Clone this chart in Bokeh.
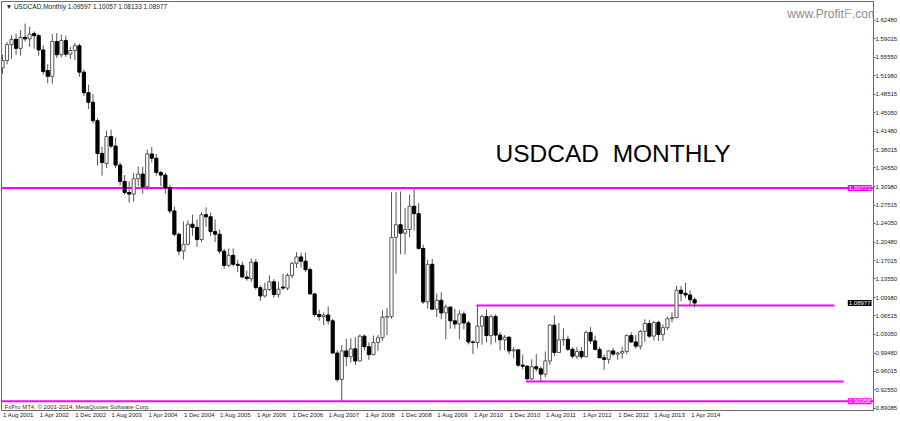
from bokeh.plotting import figure
from bokeh.models import Range1d, FixedTicker, PrintfTickFormatter, Label, ColumnDataSource
from bokeh.embed import file_html
from bokeh.resources import INLINE

# Monthly USDCAD candles, Aug 2001 .. May 2014 (bar index 0 .. 153)
opens = [1.5350, 1.5490, 1.5790, 1.5890, 1.5720,
         1.5930, 1.5900, 1.6000, 1.5960, 1.5690, 1.5300, 1.5190, 1.5850, 1.5600, 1.5870, 1.5610, 1.5680,
         1.5770, 1.5270, 1.4880, 1.4700, 1.4350, 1.3730, 1.3540, 1.4050, 1.3870, 1.3510, 1.3200, 1.2990,
         1.2960, 1.3250, 1.3340, 1.3100, 1.3720, 1.3640, 1.3370, 1.3320, 1.3080, 1.2640, 1.2200, 1.1880,
         1.2010, 1.2390, 1.2330, 1.2100, 1.2570, 1.2530, 1.2250, 1.2200, 1.1880, 1.1610, 1.1800, 1.1630,
         1.1610, 1.1390, 1.1360, 1.1670, 1.1190, 1.1030, 1.1150, 1.1300, 1.1060, 1.1200, 1.1180, 1.1420,
         1.1650, 1.1770, 1.1690, 1.1530, 1.1070, 1.0680, 1.0640, 1.0670, 1.0560, 0.9950, 0.9450, 0.9990,
         0.9880, 1.0030, 0.9800, 1.0270, 1.0070, 0.9920, 1.0150, 1.0240, 1.0630, 1.0640, 1.2140, 1.2380,
         1.2220, 1.2290, 1.2730, 1.2590, 1.1930, 1.0920, 1.1630, 1.0780, 1.0950, 1.0710, 1.0820, 1.0560,
         1.0500, 1.0690, 1.0520, 1.0160, 1.0150, 1.0460, 1.0640, 1.0280, 1.0640, 1.0290, 1.0200, 1.0250,
         0.9990, 1.0010, 0.9720, 0.9700, 0.9460, 0.9690, 0.9650, 0.9550, 0.9800, 1.0480, 0.9960, 1.0200,
         1.0210, 1.0020, 0.9890, 0.9980, 0.9880, 1.0340, 1.0180, 1.0020, 0.9860, 0.9830, 0.9990, 0.9930,
         0.9950, 0.9980, 1.0280, 1.0160, 1.0080, 1.0360, 1.0510, 1.0270, 1.0530, 1.0300, 1.0430, 1.0600,
         1.0620, 1.1140, 1.1080, 1.1050, 1.09597]
highs = [1.5600, 1.5840, 1.5970, 1.6000, 1.6060,
         1.6190, 1.6130, 1.6040, 1.5990, 1.5780, 1.5420, 1.5990, 1.6010, 1.5980, 1.5960, 1.5750, 1.5820,
         1.5810, 1.5320, 1.5030, 1.4860, 1.4400, 1.3860, 1.4160, 1.4180, 1.4030, 1.3560, 1.3320, 1.3200,
         1.3360, 1.3480, 1.3480, 1.3800, 1.3850, 1.3720, 1.3400, 1.3360, 1.3130, 1.2720, 1.2230, 1.2440,
         1.2460, 1.2570, 1.2480, 1.2620, 1.2710, 1.2610, 1.2480, 1.2290, 1.1920, 1.1930, 1.1930, 1.1720,
         1.1680, 1.1510, 1.1740, 1.1730, 1.1230, 1.1280, 1.1420, 1.1350, 1.1300, 1.1450, 1.1460, 1.1680,
         1.1860, 1.1850, 1.1850, 1.1570, 1.1090, 1.0770, 1.0720, 1.0830, 1.0600, 1.0000, 1.0100, 1.0220,
         1.0230, 1.0250, 1.0300, 1.0300, 1.0150, 1.0280, 1.0290, 1.0760, 1.0800, 1.2995, 1.2997, 1.3010,
         1.2700, 1.2950, 1.30773, 1.2790, 1.2000, 1.1720, 1.1730, 1.1080, 1.1100, 1.0870, 1.0830, 1.0790,
         1.0760, 1.0740, 1.0560, 1.0190, 1.0850, 1.0680, 1.0780, 1.0680, 1.0680, 1.0340, 1.0290, 1.0270,
         1.0060, 1.0020, 0.9920, 0.9720, 0.9830, 0.9930, 0.9700, 0.9980, 1.0500, 1.0660, 1.0520, 1.0420,
         1.0280, 1.0060, 1.0060, 1.0060, 1.0370, 1.0440, 1.0280, 1.0070, 0.9920, 1.0000, 1.0050, 0.9970,
         1.0070, 1.0300, 1.0340, 1.0290, 1.0390, 1.0590, 1.0580, 1.0560, 1.0560, 1.0490, 1.0640, 1.0720,
         1.1220, 1.1220, 1.1280, 1.1140, 1.10057]
lows = [1.5240, 1.5420, 1.5520, 1.5600, 1.5580,
        1.5850, 1.5750, 1.5710, 1.5580, 1.5220, 1.5060, 1.5050, 1.5540, 1.5550, 1.5560, 1.5520, 1.5500,
        1.5180, 1.4820, 1.4570, 1.4300, 1.3500, 1.3310, 1.3450, 1.3830, 1.3450, 1.3120, 1.2950, 1.2800,
        1.2820, 1.3110, 1.2970, 1.3040, 1.3560, 1.3310, 1.3110, 1.2970, 1.2590, 1.2160, 1.1800, 1.1720,
        1.1990, 1.2170, 1.1960, 1.2050, 1.2340, 1.2170, 1.2050, 1.1830, 1.1540, 1.1580, 1.1590, 1.1480,
        1.1370, 1.1320, 1.1300, 1.1150, 1.0940, 1.1000, 1.1130, 1.1000, 1.1000, 1.1140, 1.1140, 1.1370,
        1.1560, 1.1570, 1.1480, 1.1060, 1.0630, 1.0560, 1.0480, 1.0490, 0.9940, 0.9400, 0.90358, 0.9700,
        0.9770, 0.9720, 0.9790, 1.0000, 0.9820, 0.9910, 0.9990, 1.0180, 1.0290, 1.0600, 1.1450, 1.1820,
        1.1820, 1.2140, 1.2270, 1.1910, 1.0880, 1.0790, 1.0770, 1.0630, 1.0590, 1.0210, 1.0410, 1.0410,
        1.0210, 1.0400, 1.0110, 0.9930, 1.0050, 1.0110, 1.0150, 1.0110, 1.0150, 1.0000, 1.0000, 0.9930,
        0.9850, 0.9690, 0.9640, 0.9450, 0.9440, 0.9600, 0.9410, 0.9490, 0.9730, 0.9890, 0.9950, 1.0090,
        0.9990, 0.9850, 0.9840, 0.9840, 0.9870, 1.0120, 1.0000, 0.9860, 0.9630, 0.9750, 0.9900, 0.9820,
        0.9840, 0.9930, 1.0140, 1.0030, 1.0010, 1.0160, 1.0240, 1.0190, 1.0180, 1.0180, 1.0380, 1.0530,
        1.0610, 1.0930, 1.0990, 1.0860, 1.08133]
closes = [1.5490, 1.5790, 1.5890, 1.5720, 1.5930,
          1.5900, 1.5990, 1.5960, 1.5690, 1.5280, 1.5190, 1.5850, 1.5600, 1.5870, 1.5610, 1.5680, 1.5770,
          1.5270, 1.4880, 1.4700, 1.4350, 1.3730, 1.3560, 1.4050, 1.3870, 1.3510, 1.3200, 1.2990, 1.2960,
          1.3250, 1.3340, 1.3100, 1.3720, 1.3640, 1.3370, 1.3320, 1.3080, 1.2640, 1.2200, 1.1880, 1.2010,
          1.2390, 1.2330, 1.2100, 1.2570, 1.2530, 1.2250, 1.2200, 1.1880, 1.1610, 1.1800, 1.1630, 1.1610,
          1.1390, 1.1360, 1.1670, 1.1190, 1.1030, 1.1150, 1.1300, 1.1060, 1.1160, 1.1180, 1.1420, 1.1650,
          1.1770, 1.1690, 1.1530, 1.1070, 1.0680, 1.0640, 1.0670, 1.0560, 0.9950, 0.9450, 0.9990, 0.9880,
          1.0030, 0.9800, 1.0270, 1.0070, 0.9920, 1.0150, 1.0240, 1.0630, 1.0640, 1.2140, 1.2380, 1.2220,
          1.2290, 1.2730, 1.2590, 1.1930, 1.0920, 1.1630, 1.0780, 1.0950, 1.0710, 1.0820, 1.0560, 1.0500,
          1.0690, 1.0520, 1.0160, 1.0150, 1.0460, 1.0640, 1.0280, 1.0640, 1.0290, 1.0200, 1.0250, 0.9990,
          1.0010, 0.9720, 0.9700, 0.9460, 0.9690, 0.9650, 0.9550, 0.9800, 1.0480, 0.9960, 1.0200, 1.0210,
          1.0020, 0.9890, 0.9980, 0.9880, 1.0340, 1.0180, 1.0020, 0.9860, 0.9830, 0.9990, 0.9930, 0.9950,
          0.9980, 1.0280, 1.0160, 1.0080, 1.0360, 1.0510, 1.0270, 1.0530, 1.0300, 1.0430, 1.0600, 1.0620,
          1.1140, 1.1080, 1.1050, 1.0960, 1.08977]

date_labels = ["1 Aug 2001", "1 Apr 2002", "1 Dec 2002", "1 Aug 2003", "1 Apr 2004",
               "1 Dec 2004", "1 Aug 2005", "1 Apr 2006", "1 Dec 2006", "1 Aug 2007",
               "1 Apr 2008", "1 Dec 2008", "1 Aug 2009", "1 Apr 2010", "1 Dec 2010",
               "1 Aug 2011", "1 Apr 2012", "1 Dec 2012", "1 Aug 2013", "1 Apr 2014"]
date_label_bars = [0, 8, 16, 24, 32, 40, 48, 56, 64, 72, 80, 88, 96, 104, 112, 120, 128, 136, 144, 152]

price_ticks = [1.62480, 1.59015, 1.55550, 1.51980, 1.48515, 1.45050, 1.41480, 1.38015, 1.34550,
               1.30980, 1.27515, 1.24050, 1.20480, 1.17015, 1.13550, 1.09980, 1.06515, 1.03050,
               0.99480, 0.96015, 0.92550, 0.89085]

full_levels = [1.30773, 0.90358]
seg_levels = [1.0850, 0.9410]
seg_from = [104.8, 115.7]
seg_to = [183.9, 185.9]
last_price = 1.08977

FONT = "Liberation Sans"
MAG = "#ff00ff"
X0, X1 = -0.22, 192.55
Y0, Y1 = 0.88616, 1.66077

n = len(closes)
xs = list(range(n))
bull = [c >= o for o, c in zip(opens, closes)]
src = ColumnDataSource(dict(
    x=xs, o=opens, h=highs, l=lows, c=closes,
    top=[max(o, c) for o, c in zip(opens, closes)],
    bot=[min(o, c) for o, c in zip(opens, closes)],
    fill=["#ffffff" if b else "#000000" for b in bull],
    line=["#555555" if b else "#000000" for b in bull],
))

p = figure(width=900, height=421, x_range=Range1d(X0, X1), y_range=Range1d(Y0, Y1),
           y_axis_location="right", toolbar_location=None, output_backend="svg",
           min_border_left=1, min_border_right=25, min_border_top=1, min_border_bottom=11)
p.grid.visible = False
p.background_fill_color = "white"
p.border_fill_color = "white"
p.outline_line_color = "#6a6a6a"
p.outline_line_width = 1

# right price axis
p.yaxis.ticker = FixedTicker(ticks=price_ticks)
p.yaxis.formatter = PrintfTickFormatter(format="%.5f")
p.yaxis.major_label_text_font = FONT
p.yaxis.major_label_text_font_size = "6px"
p.yaxis.major_label_text_color = "#222222"
p.yaxis.major_tick_in = 0
p.yaxis.major_tick_out = 2
p.yaxis.minor_tick_line_color = None
p.yaxis.minor_tick_out = 0
p.yaxis.minor_tick_in = 0
p.yaxis.axis_line_color = "#6a6a6a"
p.yaxis.major_tick_line_color = "#6a6a6a"
p.yaxis.major_label_standoff = 0
p.yaxis.axis_label_standoff = 0

# bottom date axis; labels start at their bar
offs = 3.5
tick_pos = [b + offs for b in date_label_bars]
p.xaxis.ticker = FixedTicker(ticks=tick_pos)
p.xaxis.major_label_overrides = {t: s for t, s in zip(tick_pos, date_labels)}
p.xaxis.major_label_text_font = FONT
p.xaxis.major_label_text_font_size = "6px"
p.xaxis.major_label_text_color = "#222222"
p.xaxis.major_tick_line_color = None
p.xaxis.major_tick_out = 0
p.xaxis.major_tick_in = 0
p.xaxis.minor_tick_line_color = None
p.xaxis.minor_tick_out = 0
p.xaxis.minor_tick_in = 0
p.xaxis.axis_line_color = None
p.xaxis.major_label_standoff = 1
p.xaxis.axis_label_standoff = 0

# horizontal levels
for lv in full_levels:
    p.segment(x0=[-1], y0=[lv], x1=[200], y1=[lv], line_color=MAG, line_width=2)
p.segment(x0=seg_from, y0=seg_levels, x1=seg_to, y1=seg_levels, line_color=MAG, line_width=2)

# candles
p.segment(x0="x", y0="l", x1="x", y1="h", source=src, line_color="#555555", line_width=1)
p.vbar(x="x", top="top", bottom="bot", width=0.7, source=src,
       fill_color="fill", line_color="line", line_width=1)

# texts
p.add_layout(Label(x=0.7, y=1.6513, text="\u25bc USDCAD,Monthly  %.5f %.5f %.5f %.5f" % (
    opens[-1], highs[-1], lows[-1], closes[-1]),
    text_font=FONT, text_font_size="6.5px", text_color="#222222", text_baseline="middle"))
p.add_layout(Label(x=109.0, y=1.3720, text="USDCAD\u00a0\u00a0MONTHLY", text_font=FONT,
                   text_font_size="24.5px", text_color="#000000", text_baseline="middle"))
p.add_layout(Label(x=0.44, y=0.8937, text="FxPro MT4, \u00a9 2001-2014, MetaQuotes Software Corp.",
                   text_font=FONT, text_font_size="6px", text_color="#333333", text_baseline="middle"))
# watermark
p.add_layout(Label(x=186.0, y=1.6380, text="www.Profit", text_font=FONT, text_font_size="12px",
                   text_color="#8c8c8c", text_align="right", text_baseline="middle"))
p.add_layout(Label(x=186.0, y=1.6380, text="F", text_font=FONT, text_font_size="13px",
                   text_color="#79bde9", text_align="left", text_baseline="middle"))
p.add_layout(Label(x=187.8, y=1.6380, text=".com", text_font=FONT, text_font_size="12px",
                   text_color="#8c8c8c", text_align="left", text_baseline="middle"))

# price markers at the right edge of the chart frame
for lv, bg in [(full_levels[0], MAG), (full_levels[1], MAG), (last_price, "black")]:
    p.add_layout(Label(x=X1, y=lv, text="%.5f" % lv, text_font=FONT, x_offset=-2,
                       text_font_size="6px", text_color="white", background_fill_color=bg,
                       text_align="right", text_baseline="middle", padding=1))

open("out.html", "w").write(file_html(p, INLINE))
